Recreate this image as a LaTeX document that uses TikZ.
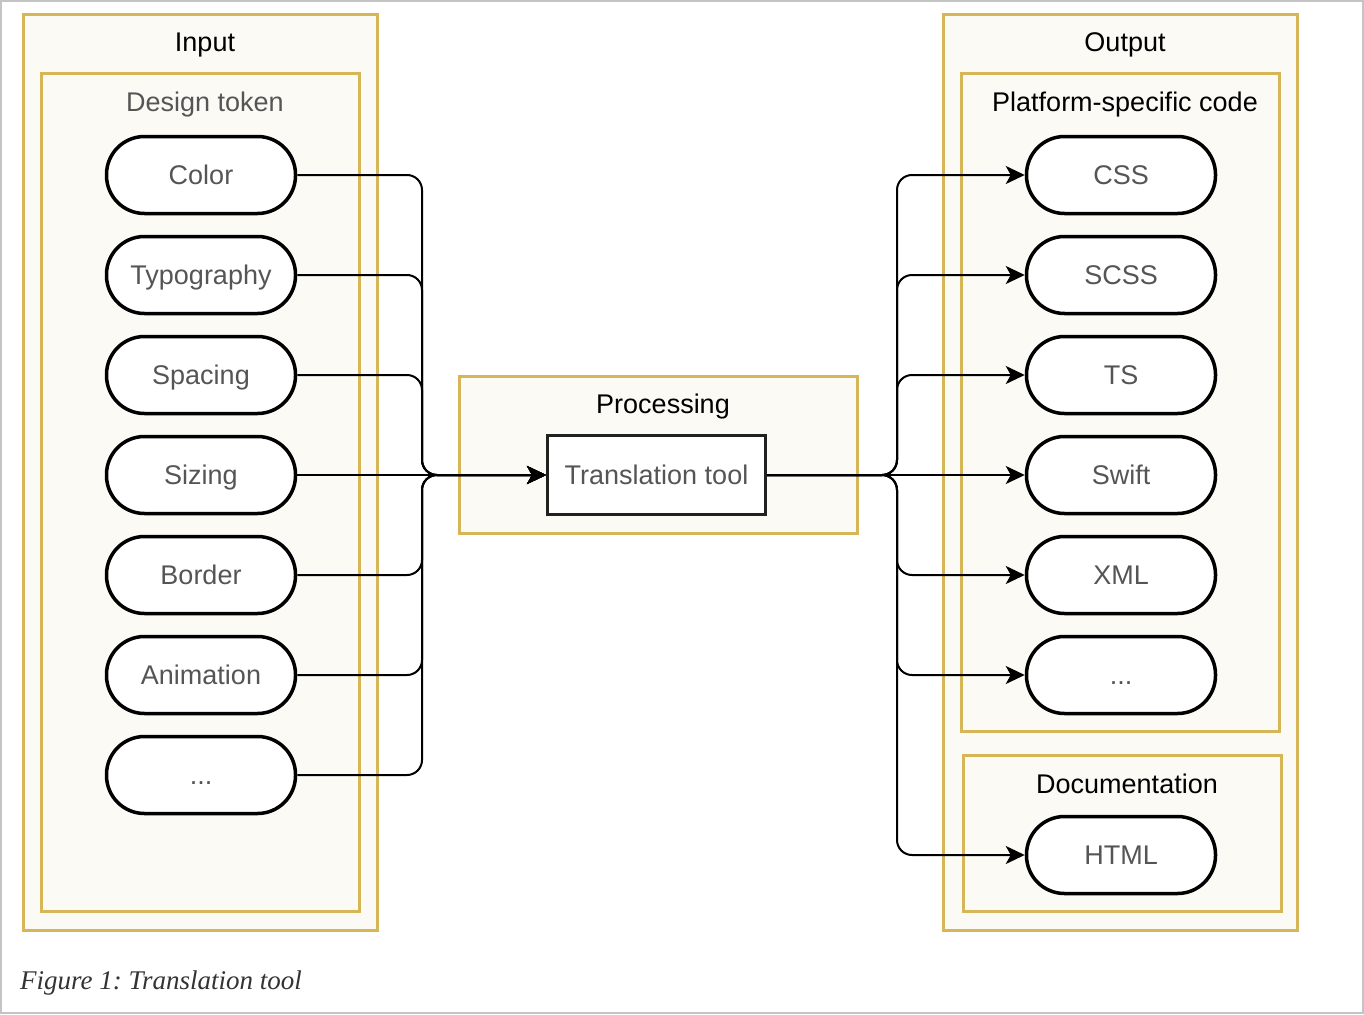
\documentclass[tikz,border=0pt]{standalone}
\usepackage{fontspec}
\setmainfont{Liberation Sans}
\newfontfamily\capfont{Liberation Serif}
\usetikzlibrary{arrows.meta, positioning}
\definecolor{groupline}{HTML}{D6B656}
\definecolor{groupfill}{HTML}{FBFAF5}
\definecolor{labelgray}{HTML}{555555}
\definecolor{framegray}{HTML}{C4C4C4}
\frenchspacing
\tikzstyle{group} = [rectangle, draw=groupline, fill=groupfill, line width=3.5pt, inner sep=0pt]
\tikzstyle{title} = [font=\fontsize{27}{32}\selectfont, text height=19.5pt, text depth=0pt, inner sep=0pt]
\tikzstyle{token} = [rectangle, rounded corners=38pt, draw, fill=white, line width=3.5pt, minimum width=189pt, minimum height=77pt, text=labelgray, font=\fontsize{27}{32}\selectfont, text height=19.5pt, text depth=0pt, inner sep=0pt]
\tikzstyle{tool} = [rectangle, draw=black!87, fill=white, line width=3pt, minimum width=218pt, minimum height=79pt, text=labelgray, font=\fontsize{27}{32}\selectfont, text height=19.5pt, text depth=0pt, inner sep=0pt]
\tikzstyle{link} = [-{Stealth[length=19pt, width=18pt, inset=5pt]}, line width=2pt, rounded corners=15pt]

\begin{document}
\begin{tikzpicture}[x=1pt, y=-1pt]
  \useasboundingbox (0,0) rectangle (1364,1014);
  \draw[framegray, line width=2pt] (1,1) rectangle (1363,1013);

  % Gruppen
  \node[group, minimum width=354pt, minimum height=916pt] (input) at (200.5,472.5) {};
  \node[group, minimum width=318pt, minimum height=838pt] (tokens) at (200.5,492.5) {};
  \node[group, minimum width=398pt, minimum height=157pt] (processing) at (658.5,455) {};
  \node[group, minimum width=354pt, minimum height=916pt] (output) at (1120.5,472.5) {};
  \node[group, minimum width=318pt, minimum height=658pt] (platform) at (1120.5,402.5) {};
  \node[group, minimum width=318pt, minimum height=156pt] (docs) at (1122.5,833.5) {};

  % Titel
  \node[title] (inputT) at (205,42) {Input};
  \node[title, text=labelgray] (tokensT) at (205,102) {Design token};
  \node[title] (processingT) at (663,404) {Processing};
  \node[title] (outputT) at (1125,42) {Output};
  \node[title] (platformT) at (1125,102) {Platform-specific code};
  \node[title] (docsT) at (1127,784) {Documentation};

  % Design tokens
  \node[token] (color) at (201,175) {Color};
  \node[token] (typo) at (201,275) {Typography};
  \node[token] (spacing) at (201,375) {Spacing};
  \node[token] (sizing) at (201,475) {Sizing};
  \node[token] (border) at (201,575) {Border};
  \node[token] (anim) at (201,675) {Animation};
  \node[token] (moreL) at (201,775) {...};

  % Werkzeug
  \node[tool] (tool) at (656.5,475) {Translation tool};

  % Ziele
  \node[token] (css) at (1121,175) {CSS};
  \node[token] (scss) at (1121,275) {SCSS};
  \node[token] (ts) at (1121,375) {TS};
  \node[token] (swift) at (1121,475) {Swift};
  \node[token] (xml) at (1121,575) {XML};
  \node[token] (moreR) at (1121,675) {...};
  \node[token] (html) at (1121,855) {HTML};

  % Sammelpunkte
  \coordinate (joinL) at (422,475);
  \coordinate (joinR) at (897,475);

  % Pfade links
  \draw[link] (color.east) -| (joinL) -- (tool.west);
  \draw[link] (typo.east) -| (joinL) -- (tool.west);
  \draw[link] (spacing.east) -| (joinL) -- (tool.west);
  \draw[link] (sizing.east) -- (tool.west);
  \draw[link] (border.east) -| (joinL) -- (tool.west);
  \draw[link] (anim.east) -| (joinL) -- (tool.west);
  \draw[link] (moreL.east) -| (joinL) -- (tool.west);

  % Pfade rechts
  \draw[link] (tool.east) -- (joinR) |- (css.west);
  \draw[link] (tool.east) -- (joinR) |- (scss.west);
  \draw[link] (tool.east) -- (joinR) |- (ts.west);
  \draw[link] (tool.east) -- (swift.west);
  \draw[link] (tool.east) -- (joinR) |- (xml.west);
  \draw[link] (tool.east) -- (joinR) |- (moreR.west);
  \draw[link] (tool.east) -- (joinR) |- (html.west);

  % Bildunterschrift
  \node[anchor=base west, inner sep=0pt, text=black!80, font=\capfont\itshape\fontsize{27}{32}\selectfont] (caption) at (20,989) {Figure 1: Translation tool};
\end{tikzpicture}
\end{document}
